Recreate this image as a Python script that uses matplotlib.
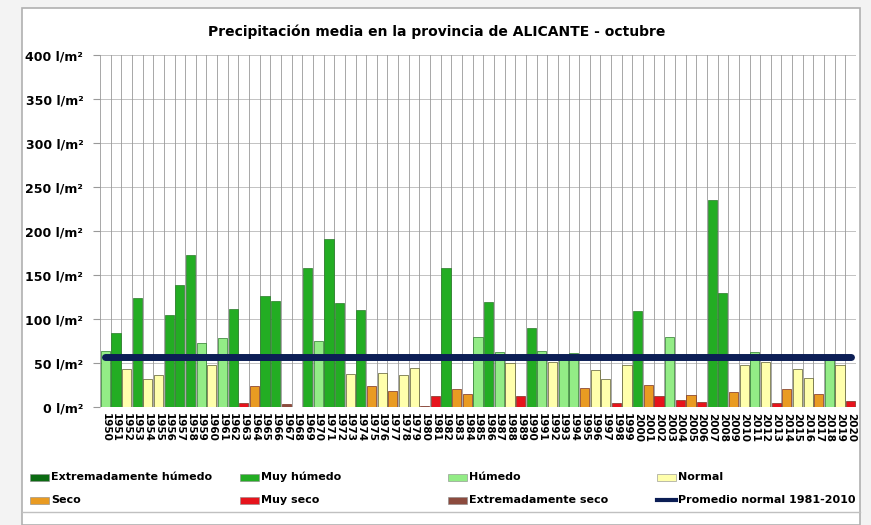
import numpy as np
import matplotlib.pyplot as plt
from matplotlib.patches import Rectangle
from matplotlib.lines import Line2D

years = list(range(1950, 2021))
precip = [
    64, 84, 43, 124, 32, 36, 104, 139, 173, 73,
    48, 78, 111, 4.5, 24, 126, 120, 3, 0.5, 158,
    75, 191, 118.5, 37.5, 110.5, 24, 39, 18, 36, 44,
    1, 13, 158, 20, 15, 80, 119, 62.5, 50, 13,
    90, 64, 51.5, 57, 61, 22, 42, 32, 4, 48,
    109, 25, 12.5, 80, 8, 13.6, 5.7, 235, 129, 17.4,
    48, 62.5, 51, 5, 20, 43, 33, 14.8, 57, 48,
    6.4,
]
category = [
    "H", "MH", "N", "MH", "N", "N", "MH", "MH", "MH", "H",
    "N", "H", "MH", "MS", "S", "MH", "MH", "ES", "ES", "MH",
    "H", "MH", "MH", "N", "MH", "S", "N", "S", "N", "N",
    "ES", "MS", "MH", "S", "S", "H", "MH", "H", "N", "MS",
    "MH", "H", "N", "H", "H", "S", "N", "N", "MS", "N",
    "MH", "S", "MS", "H", "MS", "S", "MS", "MH", "MH", "S",
    "N", "H", "N", "MS", "S", "N", "N", "S", "H", "N",
    "MS",
]
normal_1981_2010 = 56.4

cat_codes = ["EH", "MH", "H", "N", "S", "MS", "ES"]
cat_names = ["Extremadamente húmedo", "Muy húmedo", "Húmedo", "Normal",
             "Seco", "Muy seco", "Extremadamente seco"]
cat_colors = {"EH": "#0b6b12", "MH": "#23ad23", "H": "#93ec86", "N": "#ffffac",
              "S": "#e99b22", "MS": "#e6141c", "ES": "#8c4b3e"}
line_color = "#0c1e55"

fig = plt.figure(figsize=(8.71, 5.25), dpi=100, facecolor="#f3f3f3")
W, H = 871, 525

# white panel with frame
fig.patches.append(Rectangle((22 / W, 0), (860 - 22) / W, (525 - 8) / H,
                             transform=fig.transFigure, facecolor="white",
                             edgecolor="#b0b0b0", lw=1.2, zorder=-5))
fig.lines.append(Line2D([22 / W, 860 / W], [1 - 512 / H, 1 - 512 / H],
                        transform=fig.transFigure, color="#c0c0c0", lw=1, zorder=-4))

ax = fig.add_axes([100 / W, 1 - 407 / H, (856 - 100) / W, (407 - 55) / H])
ax.set_facecolor("white")
x = np.arange(len(years))
colors = [cat_colors[c] for c in category]
edges = ["#5a5a30" if c == "N" else "#2a7a2a" if c in ("MH", "H") else "#7a3020" for c in category]
ax.bar(x, precip, width=0.86, color=colors, edgecolor=edges, linewidth=0.5, zorder=3)
ax.plot([x[0], x[-1]], [normal_1981_2010] * 2, color=line_color, lw=5,
        solid_capstyle="round", zorder=4)

ax.set_xlim(-0.5, len(years) - 0.5)
ax.set_ylim(0, 400)
yt = np.arange(0, 401, 50)
ax.set_yticks(yt)
ax.set_yticklabels([f"{v} l/m²" for v in yt], fontsize=9, fontweight="bold")
ax.set_xticks(x)
ax.set_xticklabels([str(y) for y in years], rotation=270, fontsize=7.5,
                   fontweight="bold")
ax.tick_params(axis="x", length=0, pad=4)
ax.tick_params(axis="y", length=5, color="#999999", pad=7)
for v in yt[1:]:
    ax.axhline(v, color="#b8b8b8", lw=0.6, zorder=1)
for b in np.arange(-0.5, len(years), 1):
    ax.axvline(b, color="#999999", lw=0.6, zorder=1)
for s in ax.spines.values():
    s.set_visible(False)

fig.text(437 / W, 1 - 32 / H, "Precipitación media en la provincia de ALICANTE - octubre",
         ha="center", va="center", fontsize=10, fontweight="bold")

# legend
leg_x = [30, 240, 448, 657]
leg_y = [477, 500]
entries = [(n, cat_colors[c]) for n, c in zip(cat_names, cat_codes)]
entries.append(("Promedio normal 1981-2010", None))
for i, (name, col) in enumerate(entries):
    px = leg_x[i % 4]
    py = leg_y[i // 4]
    if col is None:
        fig.lines.append(Line2D([px / W, (px + 19) / W], [1 - py / H] * 2,
                                transform=fig.transFigure, color=line_color, lw=3))
    else:
        fig.patches.append(Rectangle((px / W, 1 - (py + 3.5) / H), 19 / W, 7 / H,
                                     transform=fig.transFigure, facecolor=col,
                                     edgecolor="#888888", lw=0.4))
    fig.text((px + 21) / W, 1 - py / H, name, ha="left", va="center",
             fontsize=8, fontweight="bold")

fig.savefig("out.png", dpi=100, facecolor=fig.get_facecolor())
